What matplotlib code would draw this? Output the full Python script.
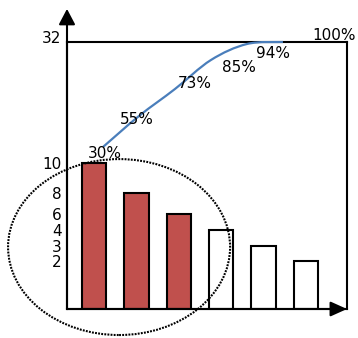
import matplotlib
matplotlib.use('Agg')
import matplotlib.pyplot as plt
import matplotlib.transforms as mtransforms
import numpy as np
from matplotlib.patches import Ellipse, PathPatch
from matplotlib.path import Path

# counts per cause, sorted descending, and the running share of the total
counts = [10, 8, 6, 4, 3, 2]
vital_few = [True, True, True, False, False, False]
cum_pct = [30, 55, 73, 85, 94, 100]
pct_labels = ['30%', '55%', '73%', '85%', '94%', '100%']
count_ticks = [2, 3, 4, 6, 8, 10, 32]

# hand-drawn axis spacing: value -> height in pixels above the baseline
count_knots = ([0, 2, 3, 4, 6, 8, 10, 32], [0, 48, 63, 79, 95, 116, 146, 267])
pct_knots = ([0, 30, 55, 73, 85, 94, 100], [0, 162, 193, 220, 249, 265, 267])

# where each percentage label sits relative to its point (pixels)
label_offsets = [(2, -7), (-2, -3), (20, 5), (28, -8), (26, -10), (51, 6)]

RED = '#C0504D'
BLUE = '#4A7EBB'


def knot_scale(knots):
    vals, px = knots
    return (lambda v: np.interp(v, vals, px),
            lambda h: np.interp(h, px, vals))


def smooth_path(xs, ys):
    """Catmull-Rom curve through the points, as cubic Bezier segments."""
    p = np.column_stack([xs, ys]).astype(float)
    ext = np.vstack([p[0], p, p[-1]])
    verts = [p[0]]
    codes = [Path.MOVETO]
    for i in range(len(p) - 1):
        p0, p1, p2, p3 = ext[i], ext[i + 1], ext[i + 2], ext[i + 3]
        verts += [p1 + (p2 - p0) / 6, p2 - (p3 - p1) / 6, p2]
        codes += [Path.CURVE4] * 3
    return Path(verts, codes)


plt.rcParams['font.family'] = 'DejaVu Sans'
fig = plt.figure(figsize=(3.58, 3.38), dpi=100)
rect = [67 / 358, 29 / 338, 280 / 358, 267 / 338]
ax = fig.add_axes(rect)

# bars
ax.set_yscale('function', functions=knot_scale(count_knots))
x = np.arange(len(counts))
colors = [RED if v else 'white' for v in vital_few]
ax.bar(x, counts, width=0.58, color=colors, edgecolor='black', linewidth=1.5, zorder=2)
ax.set_xlim(-0.637, 5.967)
ax.set_ylim(0, 32)
ax.set_xticks([])
ax.set_yticks(count_ticks)
ax.set_yticklabels([str(t) for t in count_ticks])
ax.tick_params(axis='y', length=0, pad=4, labelsize=11)
for side in ax.spines.values():
    side.set_linewidth(1.5)

# the top label sits a little above the frame line
top_label = ax.get_yticklabels()[-1]
top_label.set_transform(top_label.get_transform() +
                        mtransforms.ScaledTranslation(0, 5 / 100, fig.dpi_scale_trans))

# axis arrows
ax.annotate('', xy=(0, 1.124), xytext=(0, 0), xycoords='axes fraction',
            arrowprops=dict(arrowstyle='-|>,head_length=0.95,head_width=0.5',
                            lw=1.5, color='black', shrinkA=0, shrinkB=0))
ax.annotate('', xy=(1.0, 0), xytext=(0, 0), xycoords='axes fraction',
            arrowprops=dict(arrowstyle='-|>,head_length=1.0,head_width=0.45',
                            lw=1.5, color='black', shrinkA=0, shrinkB=0))

# dotted ring around the vital few
ax.add_patch(Ellipse((0.186, 0.232), 0.793, 0.659, transform=ax.transAxes,
                     fill=False, edgecolor='black', linestyle=(0, (0.9, 0.6)),
                     linewidth=1.5, clip_on=False, zorder=5))

# cumulative percentage curve on its own overlay axes
lax = fig.add_axes(rect)
lax.patch.set_alpha(0)
pct_fwd, pct_inv = knot_scale(pct_knots)
lax.set_yscale('function', functions=(pct_fwd, pct_inv))
lax.set_xlim(-1, 6.78)
lax.set_ylim(0, 100)
lax.axis('off')

px = np.arange(len(cum_pct))
curve = smooth_path(px, pct_fwd(np.array(cum_pct, dtype=float)))
lax.add_patch(PathPatch(curve, transform=lax.transLimits + lax.transAxes,
                        fill=False, edgecolor=BLUE, linewidth=1.6,
                        clip_on=False, zorder=3))

for xi, p, lab, off in zip(px, cum_pct, pct_labels, label_offsets):
    lax.annotate(lab, (xi, p), xytext=off, textcoords='offset pixels',
                 ha='center', va='center', fontsize=11, annotation_clip=False)

fig.savefig('out.png', dpi=100)
